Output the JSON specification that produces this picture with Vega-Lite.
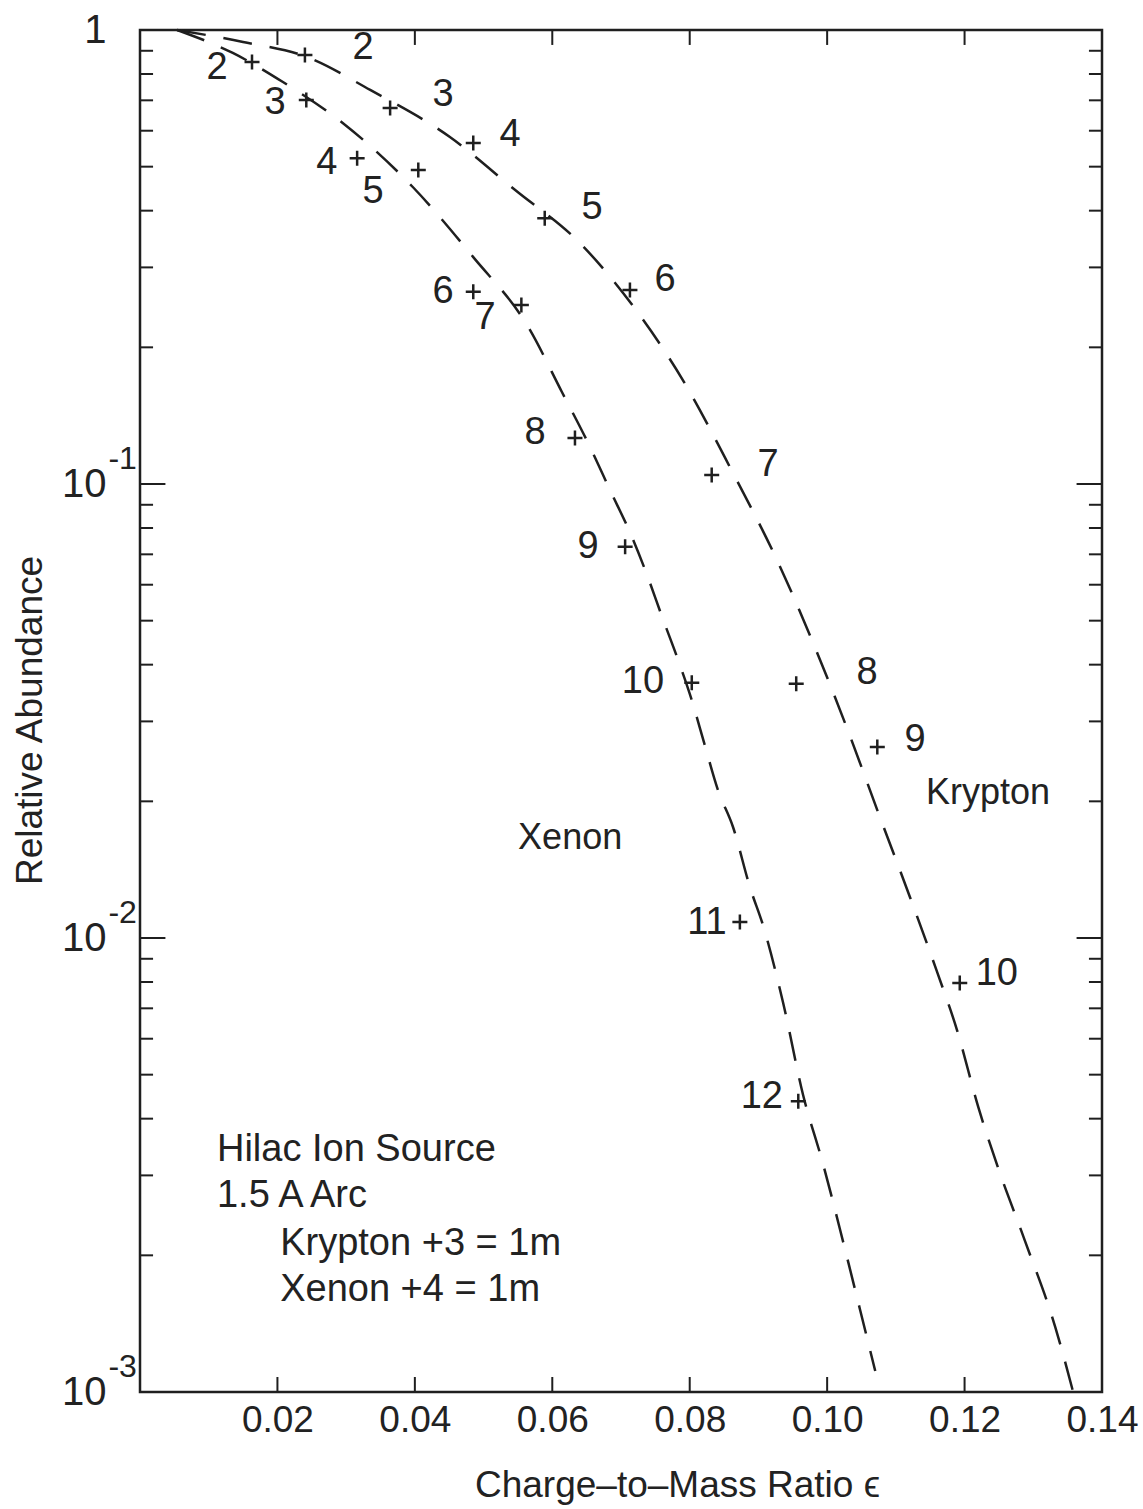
{
  "$schema": "https://vega.github.io/schema/vega-lite/v6.json",
  "width": 962,
  "height": 1362,
  "autosize": {"type": "none"},
  "padding": {"left": 140, "top": 30, "right": 41, "bottom": 117},
  "background": "white",
  "config": {
    "view": {"stroke": "#1f1f1f", "strokeWidth": 2.5},
    "font": "Liberation Sans",
    "axis": {"labelFont": "Liberation Sans", "titleFont": "Liberation Sans", "labelColor": "#222", "titleColor": "#222", "titleFontWeight": "normal", "grid": false, "domain": false, "ticks": false}
  },
  "datasets": {
    "points": [
      {"gas": "Krypton", "q": "2", "x": 0.0240, "y": 0.881, "lx": 0.03245, "ly": 0.913},
      {"gas": "Krypton", "q": "3", "x": 0.0364, "y": 0.673, "lx": 0.0441, "ly": 0.719},
      {"gas": "Krypton", "q": "4", "x": 0.0485, "y": 0.564, "lx": 0.05385, "ly": 0.587},
      {"gas": "Krypton", "q": "5", "x": 0.0589, "y": 0.385, "lx": 0.06578, "ly": 0.4055},
      {"gas": "Krypton", "q": "6", "x": 0.0713, "y": 0.2675, "lx": 0.0764, "ly": 0.2813},
      {"gas": "Krypton", "q": "7", "x": 0.0832, "y": 0.1047, "lx": 0.0914, "ly": 0.1101},
      {"gas": "Krypton", "q": "8", "x": 0.0955, "y": 0.0363, "lx": 0.1058, "ly": 0.03835},
      {"gas": "Krypton", "q": "9", "x": 0.1073, "y": 0.02635, "lx": 0.1128, "ly": 0.0273},
      {"gas": "Krypton", "q": "10", "x": 0.1193, "y": 0.00796, "lx": 0.1247, "ly": 0.00833},
      {"gas": "Xenon", "q": "2", "x": 0.0163, "y": 0.850, "lx": 0.0112, "ly": 0.825},
      {"gas": "Xenon", "q": "3", "x": 0.0242, "y": 0.701, "lx": 0.01965, "ly": 0.690},
      {"gas": "Xenon", "q": "4", "x": 0.0316, "y": 0.522, "lx": 0.0272, "ly": 0.509},
      {"gas": "Xenon", "q": "5", "x": 0.0405, "y": 0.4915, "lx": 0.0339, "ly": 0.4396},
      {"gas": "Xenon", "q": "6", "x": 0.0485, "y": 0.265, "lx": 0.0441, "ly": 0.2648},
      {"gas": "Xenon", "q": "7", "x": 0.0555, "y": 0.248, "lx": 0.0502, "ly": 0.2321},
      {"gas": "Xenon", "q": "8", "x": 0.0633, "y": 0.1263, "lx": 0.0575, "ly": 0.1295},
      {"gas": "Xenon", "q": "9", "x": 0.0706, "y": 0.0727, "lx": 0.0652, "ly": 0.0727},
      {"gas": "Xenon", "q": "10", "x": 0.0803, "y": 0.0365, "lx": 0.0732, "ly": 0.03664},
      {"gas": "Xenon", "q": "11", "x": 0.0873, "y": 0.01084, "lx": 0.0825, "ly": 0.01079},
      {"gas": "Xenon", "q": "12", "x": 0.0958, "y": 0.00437, "lx": 0.0905, "ly": 0.00446}
    ],
    "curves": [
      {"gas": "Krypton", "i": 1, "x": 0.0054, "y": 1.0},
      {"gas": "Krypton", "i": 2, "x": 0.0150, "y": 0.941},
      {"gas": "Krypton", "i": 3, "x": 0.0243, "y": 0.872},
      {"gas": "Krypton", "i": 4, "x": 0.0335, "y": 0.738},
      {"gas": "Krypton", "i": 5, "x": 0.0451, "y": 0.581},
      {"gas": "Krypton", "i": 6, "x": 0.0546, "y": 0.444},
      {"gas": "Krypton", "i": 7, "x": 0.0640, "y": 0.3396},
      {"gas": "Krypton", "i": 8, "x": 0.0725, "y": 0.238},
      {"gas": "Krypton", "i": 9, "x": 0.0790, "y": 0.1694},
      {"gas": "Krypton", "i": 10, "x": 0.0863, "y": 0.1057},
      {"gas": "Krypton", "i": 11, "x": 0.0927, "y": 0.0680},
      {"gas": "Krypton", "i": 12, "x": 0.0982, "y": 0.04375},
      {"gas": "Krypton", "i": 13, "x": 0.1030, "y": 0.0287},
      {"gas": "Krypton", "i": 14, "x": 0.1074, "y": 0.01895},
      {"gas": "Krypton", "i": 15, "x": 0.1121, "y": 0.01225},
      {"gas": "Krypton", "i": 16, "x": 0.1160, "y": 0.00842},
      {"gas": "Krypton", "i": 17, "x": 0.1189, "y": 0.00627},
      {"gas": "Krypton", "i": 18, "x": 0.1220, "y": 0.00424},
      {"gas": "Krypton", "i": 19, "x": 0.1249, "y": 0.00311},
      {"gas": "Krypton", "i": 20, "x": 0.1288, "y": 0.00215},
      {"gas": "Krypton", "i": 21, "x": 0.1332, "y": 0.00139},
      {"gas": "Krypton", "i": 22, "x": 0.1358, "y": 0.001},
      {"gas": "Xenon", "i": 1, "x": 0.0054, "y": 1.0},
      {"gas": "Xenon", "i": 2, "x": 0.0135, "y": 0.890},
      {"gas": "Xenon", "i": 3, "x": 0.0208, "y": 0.768},
      {"gas": "Xenon", "i": 4, "x": 0.0295, "y": 0.624},
      {"gas": "Xenon", "i": 5, "x": 0.0397, "y": 0.451},
      {"gas": "Xenon", "i": 6, "x": 0.0485, "y": 0.316},
      {"gas": "Xenon", "i": 7, "x": 0.0565, "y": 0.2217},
      {"gas": "Xenon", "i": 8, "x": 0.0614, "y": 0.1595},
      {"gas": "Xenon", "i": 9, "x": 0.0655, "y": 0.1206},
      {"gas": "Xenon", "i": 10, "x": 0.0684, "y": 0.0970},
      {"gas": "Xenon", "i": 11, "x": 0.0716, "y": 0.0764},
      {"gas": "Xenon", "i": 12, "x": 0.0739, "y": 0.0624},
      {"gas": "Xenon", "i": 13, "x": 0.0760, "y": 0.0509},
      {"gas": "Xenon", "i": 14, "x": 0.0783, "y": 0.0410},
      {"gas": "Xenon", "i": 15, "x": 0.0803, "y": 0.0334},
      {"gas": "Xenon", "i": 16, "x": 0.0821, "y": 0.0269},
      {"gas": "Xenon", "i": 17, "x": 0.0841, "y": 0.0212},
      {"gas": "Xenon", "i": 18, "x": 0.0863, "y": 0.01756},
      {"gas": "Xenon", "i": 19, "x": 0.0888, "y": 0.01289},
      {"gas": "Xenon", "i": 20, "x": 0.0907, "y": 0.01063},
      {"gas": "Xenon", "i": 21, "x": 0.0936, "y": 0.00719},
      {"gas": "Xenon", "i": 22, "x": 0.0965, "y": 0.00451},
      {"gas": "Xenon", "i": 23, "x": 0.0994, "y": 0.00318},
      {"gas": "Xenon", "i": 24, "x": 0.1023, "y": 0.00215},
      {"gas": "Xenon", "i": 25, "x": 0.1048, "y": 0.001516},
      {"gas": "Xenon", "i": 26, "x": 0.1070, "y": 0.001112}
    ],
    "yminor": [
      {"v": 0.9}, {"v": 0.8}, {"v": 0.7}, {"v": 0.6}, {"v": 0.5}, {"v": 0.4}, {"v": 0.3}, {"v": 0.2},
      {"v": 0.09}, {"v": 0.08}, {"v": 0.07}, {"v": 0.06}, {"v": 0.05}, {"v": 0.04}, {"v": 0.03}, {"v": 0.02},
      {"v": 0.009}, {"v": 0.008}, {"v": 0.007}, {"v": 0.006}, {"v": 0.005}, {"v": 0.004}, {"v": 0.003}, {"v": 0.002}
    ],
    "ymajor": [{"v": 0.1}, {"v": 0.01}],
    "xticks": [{"v": 0.02}, {"v": 0.04}, {"v": 0.06}, {"v": 0.08}, {"v": 0.10}, {"v": 0.12}],
    "exponents": [
      {"x": -0.0046, "y": 0.1135, "t": "-1"},
      {"x": -0.0046, "y": 0.01135, "t": "-2"},
      {"x": -0.0046, "y": 0.001135, "t": "-3"}
    ],
    "names": [
      {"x": 0.0626, "y": 0.01661, "t": "Xenon"},
      {"x": 0.1234, "y": 0.02087, "t": "Krypton"}
    ],
    "notes": [
      {"x": 0.0112, "y": 0.00341, "t": "Hilac Ion Source"},
      {"x": 0.0112, "y": 0.0027, "t": "1.5  A Arc"},
      {"x": 0.0204, "y": 0.00212, "t": "Krypton +3 = 1m"},
      {"x": 0.0204, "y": 0.00168, "t": "Xenon +4 = 1m"}
    ]
  },
  "layer": [
    {
      "data": {"name": "curves"},
      "mark": {"type": "line", "strokeDash": [29, 18], "strokeWidth": 2.5, "color": "#1f1f1f", "interpolate": "monotone"},
      "encoding": {
        "x": {
          "field": "x", "type": "quantitative",
          "scale": {"domain": [0, 0.14], "nice": false, "zero": false},
          "axis": {"values": [0.02, 0.04, 0.06, 0.08, 0.10, 0.12, 0.14], "format": ".2f", "labelFontSize": 37, "labelPadding": 10, "labelFlush": false, "labelOverlap": false,
                   "title": "Charge–to–Mass Ratio ϵ", "titleFontSize": 37, "titleX": 537, "titleY": 104, "titleBaseline": "alphabetic"}
        },
        "y": {
          "field": "y", "type": "quantitative",
          "scale": {"type": "log", "domain": [0.001, 1], "nice": false},
          "axis": {"values": [1, 0.1, 0.01, 0.001], "labelExpr": "datum.value >= 1 ? '1' : '10'", "labelFontSize": 40, "labelPadding": 34, "labelBaseline": "middle", "labelFlush": false, "labelOverlap": false,
                   "title": "Relative Abundance", "titleFontSize": 37, "titleX": -110, "titleY": 690, "titleBaseline": "middle", "titleAngle": -90}
        },
        "detail": {"field": "gas"},
        "order": {"field": "i"}
      }
    },
    {
      "data": {"name": "yminor"},
      "mark": {"type": "rule", "strokeWidth": 2, "color": "#1f1f1f"},
      "encoding": {"y": {"field": "v", "type": "quantitative"}, "x": {"datum": 0}, "x2": {"datum": 0.0019}}
    },
    {
      "data": {"name": "yminor"},
      "mark": {"type": "rule", "strokeWidth": 2, "color": "#1f1f1f"},
      "encoding": {"y": {"field": "v", "type": "quantitative"}, "x": {"datum": 0.14}, "x2": {"datum": 0.1381}}
    },
    {
      "data": {"name": "ymajor"},
      "mark": {"type": "rule", "strokeWidth": 2, "color": "#1f1f1f"},
      "encoding": {"y": {"field": "v", "type": "quantitative"}, "x": {"datum": 0}, "x2": {"datum": 0.0037}}
    },
    {
      "data": {"name": "ymajor"},
      "mark": {"type": "rule", "strokeWidth": 2, "color": "#1f1f1f"},
      "encoding": {"y": {"field": "v", "type": "quantitative"}, "x": {"datum": 0.14}, "x2": {"datum": 0.1363}}
    },
    {
      "data": {"name": "xticks"},
      "mark": {"type": "rule", "strokeWidth": 2, "color": "#1f1f1f"},
      "encoding": {"x": {"field": "v", "type": "quantitative"}, "y": {"datum": 1}, "y2": {"datum": 0.927}}
    },
    {
      "data": {"name": "xticks"},
      "mark": {"type": "rule", "strokeWidth": 2, "color": "#1f1f1f"},
      "encoding": {"x": {"field": "v", "type": "quantitative"}, "y": {"datum": 0.001}, "y2": {"datum": 0.001079}}
    },
    {
      "data": {"name": "points"},
      "mark": {"type": "point", "shape": "M-1,0L1,0M0,-1L0,1", "size": 225, "filled": false, "strokeWidth": 2.5, "color": "#1f1f1f", "opacity": 1},
      "encoding": {"x": {"field": "x", "type": "quantitative"}, "y": {"field": "y", "type": "quantitative"}}
    },
    {
      "data": {"name": "points"},
      "mark": {"type": "text", "fontSize": 38, "font": "Liberation Sans", "color": "#222", "align": "center", "baseline": "middle"},
      "encoding": {"x": {"field": "lx", "type": "quantitative"}, "y": {"field": "ly", "type": "quantitative"}, "text": {"field": "q"}}
    },
    {
      "data": {"name": "exponents"},
      "mark": {"type": "text", "fontSize": 32, "font": "Liberation Sans", "color": "#222", "align": "left", "baseline": "middle"},
      "encoding": {"x": {"field": "x", "type": "quantitative"}, "y": {"field": "y", "type": "quantitative"}, "text": {"field": "t"}}
    },
    {
      "data": {"name": "names"},
      "mark": {"type": "text", "fontSize": 36, "font": "Liberation Sans", "color": "#222", "align": "center", "baseline": "middle"},
      "encoding": {"x": {"field": "x", "type": "quantitative"}, "y": {"field": "y", "type": "quantitative"}, "text": {"field": "t"}}
    },
    {
      "data": {"name": "notes"},
      "mark": {"type": "text", "fontSize": 38, "font": "Liberation Sans", "color": "#222", "align": "left", "baseline": "middle"},
      "encoding": {"x": {"field": "x", "type": "quantitative"}, "y": {"field": "y", "type": "quantitative"}, "text": {"field": "t"}}
    }
  ]
}
